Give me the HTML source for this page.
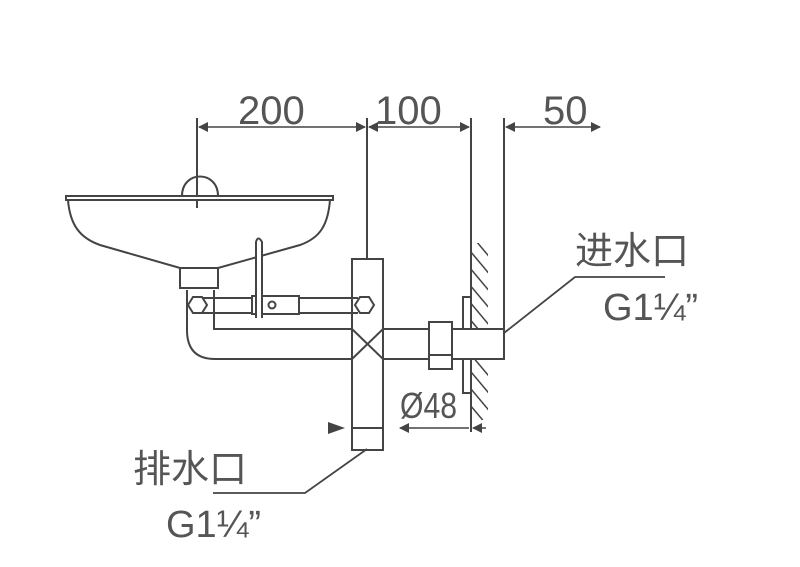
<!DOCTYPE html>
<html><head><style>body{margin:0;background:#fff}svg{display:block}</style></head><body>
<svg width="800" height="567" viewBox="0 0 800 567" xmlns="http://www.w3.org/2000/svg">
<defs><pattern id="h" width="11" height="11" patternUnits="userSpaceOnUse" patternTransform="rotate(-40)"><line x1="0" y1="0" x2="0" y2="11" stroke="#444" stroke-width="3"/></pattern>
<marker id="a" markerWidth="10" markerHeight="10" refX="9" refY="5" orient="auto-start-reverse" markerUnits="userSpaceOnUse"><path d="M0,0 L10,5 L0,10Z" fill="#444"/></marker></defs>
<g stroke="#444" stroke-width="2" fill="none">
<line x1="197" y1="118" x2="197" y2="208"/>
<line x1="367" y1="118" x2="367" y2="259"/>
<line x1="471" y1="118" x2="471" y2="432"/>
<line x1="504" y1="118" x2="504" y2="330"/>
<line x1="199" y1="127" x2="365" y2="127" marker-start="url(#a)" marker-end="url(#a)" stroke-width="1.5"/>
<line x1="369" y1="127" x2="469" y2="127" marker-start="url(#a)" marker-end="url(#a)" stroke-width="1.5"/>
<line x1="506" y1="127" x2="600" y2="127" marker-start="url(#a)" marker-end="url(#a)" stroke-width="1.5"/>
<rect x="472" y="243" width="16" height="177" fill="url(#h)" stroke="none"/>
<path d="M66,196 L333,196 L333,200 L66,200Z" fill="#fff"/>
<path d="M68,200 C70,225 80,238 100,245 L180,268 L218,268 L300,245 C320,238 328,225 330,200"/>
<path d="M182,196 C182,170 218,170 218,196"/>
<rect x="180" y="268" width="38" height="20"/>
<path d="M187,290 L187,330 Q187,359 215,359 L352,359"/>
<path d="M214,290 L214,329 L352,329"/>
<path d="M198,298 L358,298 M198,313 L358,313"/>
<path d="M188,305 l5,-8 h9 l5,8 l-5,8 h-9z" fill="#fff"/>
<path d="M355,305 l5,-8 h9 l5,8 l-5,8 h-9z" fill="#fff"/>
<rect x="252" y="296" width="47" height="18" fill="#fff"/>
<circle cx="272" cy="305" r="3.5"/>
<path d="M256,318 L256,242 Q258,235 262,242 L262,318" fill="#fff"/>
<rect x="352" y="259" width="31" height="191" fill="none"/>
<line x1="352" y1="428" x2="383" y2="428"/>
<line x1="352" y1="329" x2="383" y2="359"/><line x1="383" y1="329" x2="352" y2="359"/>
<path d="M383,329 L429,329 M383,359 L429,359"/>
<rect x="429" y="322" width="23" height="47" fill="#fff"/>
<line x1="429" y1="355" x2="452" y2="355"/>
<rect x="463" y="297" width="8" height="96" fill="#fff"/>
<rect x="452" y="329" width="52" height="30" fill="#fff"/>
<line x1="400" y1="428" x2="469" y2="428" marker-start="url(#a)" stroke-width="1.5"/>
<line x1="473" y1="428" x2="486" y2="428" marker-start="url(#a)" stroke-width="1.5"/>
<path d="M328,422 L345,428 L328,434Z" fill="#444" stroke="none"/>
<polyline points="504,333 575,277 665,277" stroke-width="1.8"/>
<polyline points="367,449 305,493 213,493" stroke-width="1.8"/>
</g>
<g fill="#555" font-family="Liberation Sans, sans-serif">
<text x="238" y="124" font-size="40">200</text>
<text x="375" y="124" font-size="40">100</text>
<text x="543" y="124" font-size="40">50</text>
<text x="400" y="418" font-size="36" textLength="57" lengthAdjust="spacingAndGlyphs">Ø48</text>
<text x="575" y="264" font-size="38" font-family="Liberation Sans, Noto Sans CJK SC, sans-serif">进水口</text>
<text x="603" y="320" font-size="38">G1¼”</text>
<text x="133" y="482" font-size="38" font-family="Liberation Sans, Noto Sans CJK SC, sans-serif">排水口</text>
<text x="166" y="537" font-size="38">G1¼”</text>
</g>
</svg>
</body></html>
